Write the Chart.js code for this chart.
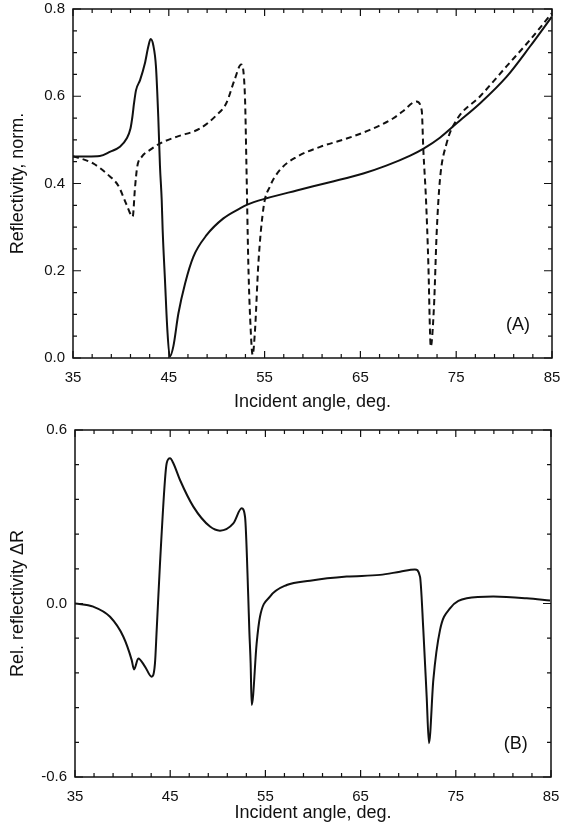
<!DOCTYPE html>
<html lang="en">
<head>
<meta charset="UTF-8" />
<title>Reflectivity vs incident angle</title>
<style>
  body { margin: 0; background: #fff; }
  .panel { position: absolute; left: 0; }
</style>
</head>
<body>
<div class="panel" style="top:0"><canvas id="chartA" width="562" height="415"></canvas></div>
<div class="panel" style="top:415px"><canvas id="chartB" width="562" height="420"></canvas></div>

<script src="https://cdn.jsdelivr.net/npm/chart.js@4.4.0/dist/chart.umd.min.js"></script>
<script>
// panel A, solid curve
const solidAngle = [35, 36.5, 37.8, 38.9, 39.9, 40.6, 41.0, 41.2, 41.37, 41.58, 42.0, 42.5, 42.86, 43.1, 43.38, 43.66, 43.9, 44.08, 44.26, 44.36, 44.6, 44.85, 45.1, 45.47, 46.0, 46.7, 47.56, 48.96, 50.7, 52.43, 53.13, 55.2, 58.35, 61.8, 65.3, 67.7, 70.2, 71.6, 73.3, 75.05, 77.5, 80.27, 82.7, 84.97];
const solidRefl = [0.462, 0.462, 0.463, 0.473, 0.484, 0.503, 0.526, 0.553, 0.584, 0.614, 0.637, 0.675, 0.714, 0.731, 0.717, 0.668, 0.553, 0.439, 0.362, 0.293, 0.179, 0.064, 0.003, 0.026, 0.102, 0.171, 0.232, 0.282, 0.320, 0.343, 0.351, 0.366, 0.384, 0.403, 0.423, 0.441, 0.464, 0.480, 0.505, 0.538, 0.584, 0.645, 0.714, 0.782];

// panel A, dashed curve
const dashAngle = [35, 35.2, 37.1, 38.86, 39.73, 40.6, 41.23, 41.47, 41.71, 42.17, 43.04, 44.1, 45.8, 48.25, 50.0, 51.0, 51.9, 52.55, 52.95, 53.1, 53.3, 53.55, 53.75, 54.0, 54.35, 54.9, 55.55, 56.6, 58.35, 60.8, 63.57, 66.0, 68.4, 69.4, 70.85, 71.4, 71.57, 71.85, 72.1, 72.27, 72.34, 72.68, 72.96, 73.3, 74.0, 75.05, 77.5, 80.27, 82.7, 84.97];
const dashRefl = [0.462, 0.461, 0.446, 0.416, 0.395, 0.351, 0.324, 0.39, 0.439, 0.461, 0.477, 0.492, 0.507, 0.526, 0.557, 0.584, 0.64, 0.673, 0.599, 0.446, 0.217, 0.064, 0.007, 0.064, 0.217, 0.347, 0.393, 0.431, 0.461, 0.484, 0.503, 0.523, 0.549, 0.565, 0.588, 0.568, 0.477, 0.362, 0.21, 0.057, 0.026, 0.118, 0.286, 0.408, 0.492, 0.546, 0.6, 0.669, 0.729, 0.79];

// panel B, relative reflectivity
const relAngle = [35, 36.92, 38.68, 40.08, 40.95, 41.2, 41.65, 42.35, 43.05, 43.4, 43.58, 43.93, 44.45, 44.63, 44.98, 45.33, 46.03, 47.43, 49.18, 50.23, 51.63, 52.51, 52.86, 53.2, 53.31, 53.45, 53.56, 54.08, 54.43, 55.48, 57.24, 59.69, 63.54, 67.04, 69.14, 70.71, 71.24, 71.59, 71.94, 72.18, 72.64, 73.34, 74.39, 76.15, 78.94, 82.45, 84.9];
const relDelta = [0.0, -0.011, -0.046, -0.115, -0.195, -0.228, -0.19, -0.218, -0.253, -0.207, -0.092, 0.139, 0.427, 0.485, 0.502, 0.485, 0.427, 0.335, 0.266, 0.252, 0.277, 0.329, 0.30, 0.023, -0.092, -0.207, -0.351, -0.138, -0.046, 0.024, 0.064, 0.079, 0.093, 0.099, 0.11, 0.118, 0.093, -0.092, -0.322, -0.483, -0.264, -0.092, -0.017, 0.018, 0.024, 0.018, 0.01];

// ticks
const xTickLabels = [35, 45, 55, 65, 75, 85];
const xMinorTicks = [35, 37, 39, 41, 43, 45, 47, 49, 51, 53, 55, 57, 59, 61, 63, 65, 67, 69, 71, 73, 75, 77, 79, 81, 83, 85];
const yTickLabelsA = [0.0, 0.2, 0.4, 0.6, 0.8];
const yMinorTicksA = [0, 0.05, 0.1, 0.15, 0.2, 0.25, 0.3, 0.35, 0.4, 0.45, 0.5, 0.55, 0.6, 0.65, 0.7, 0.75, 0.8];
const yTickLabelsB = [-0.6, 0.0, 0.6];
const yMinorTicksB = [-0.6, -0.48, -0.36, -0.24, -0.12, 0, 0.12, 0.24, 0.36, 0.48, 0.6];

const FONT = "'Liberation Sans', Arial, Helvetica, sans-serif";
const INK = '#111';

function pts(xs, ys) {
  return xs.map((x, i) => ({ x: x, y: ys[i] }));
}

// frame with inward ticks on all four sides, plus the panel letter
const framePlugin = {
  id: 'frame',
  afterDatasetsDraw(chart, args, o) {
    const { ctx, chartArea: a, scales: { x, y } } = chart;
    ctx.save();
    ctx.strokeStyle = INK;
    ctx.lineWidth = 1.5;
    ctx.strokeRect(a.left, a.top, a.right - a.left, a.bottom - a.top);
    ctx.lineWidth = 1.2;
    ctx.beginPath();
    o.xMinor.forEach(v => {
      const px = x.getPixelForValue(v);
      const len = o.xMajor.includes(v) ? 7 : 4;
      ctx.moveTo(px, a.bottom); ctx.lineTo(px, a.bottom - len);
      ctx.moveTo(px, a.top); ctx.lineTo(px, a.top + len);
    });
    o.yMinor.forEach(v => {
      const py = y.getPixelForValue(v);
      const len = o.yMajor.some(m => Math.abs(m - v) < 1e-9) ? 8 : 4;
      ctx.moveTo(a.left, py); ctx.lineTo(a.left + len, py);
      ctx.moveTo(a.right, py); ctx.lineTo(a.right - len, py);
    });
    ctx.stroke();
    ctx.fillStyle = INK;
    ctx.font = '18px ' + FONT;
    ctx.textAlign = 'center';
    ctx.textBaseline = 'middle';
    ctx.fillText(o.label, x.getPixelForValue(o.labelAt[0]), y.getPixelForValue(o.labelAt[1]));
    ctx.restore();
  }
};

function makeChart(id, cfg) {
  return new Chart(document.getElementById(id), {
    type: 'scatter',
    data: { datasets: cfg.datasets },
    options: {
      responsive: false,
      animation: false,
      layout: { padding: { top: cfg.padTop, right: cfg.padRight, left: 0, bottom: 0 } },
      plugins: {
        legend: { display: false },
        tooltip: { enabled: false },
        frame: {
          xMajor: xTickLabels, xMinor: xMinorTicks,
          yMajor: cfg.yMajor, yMinor: cfg.yMinor,
          label: cfg.label, labelAt: cfg.labelAt
        }
      },
      scales: {
        x: {
          type: 'linear', min: 35, max: 85,
          grid: { display: false, drawTicks: false },
          border: { display: false },
          afterBuildTicks: s => { s.ticks = xTickLabels.map(v => ({ value: v })); },
          afterFit: s => { s.height = cfg.xHeight; s.paddingLeft = 0; s.paddingRight = 0; },
          ticks: { color: INK, font: { size: 15, family: FONT }, padding: 11, maxRotation: 0, autoSkip: false },
          title: { display: true, text: 'Incident angle, deg.', color: INK, font: { size: 18, family: FONT }, padding: { top: 0, bottom: cfg.xTitlePad } }
        },
        y: {
          type: 'linear', min: cfg.yMin, max: cfg.yMax,
          grid: { display: false, drawTicks: false },
          border: { display: false },
          afterBuildTicks: s => { s.ticks = cfg.yMajor.map(v => ({ value: v })); },
          afterFit: s => { s.width = cfg.yWidth; s.paddingTop = 0; s.paddingBottom = 0; },
          ticks: { color: INK, font: { size: 15, family: FONT }, padding: 8, callback: v => v.toFixed(1) },
          title: { display: true, text: cfg.yTitle, color: INK, font: { size: 18, family: FONT }, padding: { top: 7, bottom: 0 } }
        }
      }
    },
    plugins: [framePlugin]
  });
}

const lineStyle = { showLine: true, pointRadius: 0, borderColor: INK, borderWidth: 2, cubicInterpolationMode: 'monotone', fill: false };

makeChart('chartA', {
  datasets: [
    Object.assign({ label: 'solid', data: pts(solidAngle, solidRefl) }, lineStyle),
    Object.assign({ label: 'dashed', data: pts(dashAngle, dashRefl), borderDash: [6, 4] }, lineStyle)
  ],
  padTop: 9, padRight: 10, yWidth: 73, xHeight: 57, xTitlePad: 2,
  yMin: 0, yMax: 0.8, yMajor: yTickLabelsA, yMinor: yMinorTicksA,
  yTitle: 'Reflectivity, norm.', label: '(A)', labelAt: [81.45, 0.076]
});

makeChart('chartB', {
  datasets: [
    Object.assign({ label: 'delta', data: pts(relAngle, relDelta) }, lineStyle)
  ],
  padTop: 15, padRight: 11, yWidth: 75, xHeight: 58, xTitlePad: 11,
  yMin: -0.6, yMax: 0.6, yMajor: yTickLabelsB, yMinor: yMinorTicksB,
  yTitle: 'Rel. reflectivity ΔR', label: '(B)', labelAt: [81.3, -0.486]
});
</script>
</body>
</html>
